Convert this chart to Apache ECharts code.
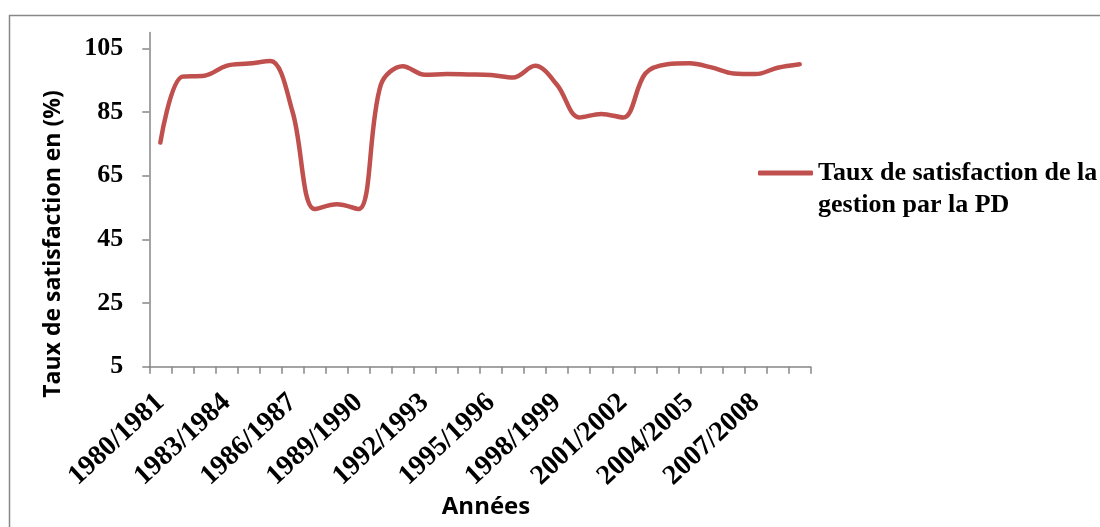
<!DOCTYPE html>
<html>
<head>
<meta charset="utf-8">
<script src="https://cdn.jsdelivr.net/npm/echarts@6/dist/echarts.min.js"></script>
<style>
  html, body { margin: 0; padding: 0; background: #fff; }
  #chart { width: 1100px; height: 527px; }
</style>
</head>
<body>
<div id="chart"></div>
<script>
// Campaign years 1980/1981 .. 2009/2010
const years = [
  '1980/1981', '1981/1982', '1982/1983', '1983/1984', '1984/1985',
  '1985/1986', '1986/1987', '1987/1988', '1988/1989', '1989/1990',
  '1990/1991', '1991/1992', '1992/1993', '1993/1994', '1994/1995',
  '1995/1996', '1996/1997', '1997/1998', '1998/1999', '1999/2000',
  '2000/2001', '2001/2002', '2002/2003', '2003/2004', '2004/2005',
  '2005/2006', '2006/2007', '2007/2008', '2008/2009', '2009/2010'
];

// Satisfaction rate (%) of management by the PD
const satisfaction = [
  75.4, 96.1, 96.4, 99.5, 100.2, 101.0, 85.0, 54.5, 56.0, 54.5,
  93.5, 99.4, 96.7, 96.9, 96.8, 96.6, 95.8, 99.5, 93.5, 83.3,
  84.4, 83.3, 97.1, 100.0, 100.3, 99.0, 97.1, 96.9, 98.9, 100.0
];

// Value axis ticks
const yTicks = [5, 25, 45, 65, 85, 105];

const seriesName = 'Taux de satisfaction de la\ngestion par la PD';
const lineRed = '#C0504D';
const axisGrey = '#868686';
const serif = '"Liberation Serif", "Times New Roman", serif';
const sans = '"Open Sans", "DejaVu Sans", sans-serif';

const chart = echarts.init(document.getElementById('chart'), null, { renderer: 'canvas' });

chart.setOption({
  animation: false,
  backgroundColor: '#ffffff',
  grid: { left: 149.3, right: 289.3, top: 32.4, bottom: 160.3, containLabel: false },
  legend: {
    left: 758,
    top: 125,
    padding: 0,
    orient: 'vertical',
    icon: 'roundRect',
    itemWidth: 55,
    itemHeight: 5,
    data: [seriesName],
    // blank first line keeps the icon level with the first text line
    formatter: name => '\n' + name,
    textStyle: {
      fontFamily: serif,
      fontWeight: 'bold',
      fontSize: 26,
      color: '#000',
      lineHeight: 32
    }
  },
  xAxis: {
    type: 'category',
    data: years,
    boundaryGap: true,
    axisLine: { lineStyle: { color: axisGrey, width: 1.5 } },
    axisTick: { show: true, interval: 0, length: 7, lineStyle: { color: axisGrey, width: 1.5 } },
    axisLabel: {
      interval: 2,
      rotate: 43,
      margin: 32,
      fontFamily: serif,
      fontWeight: 'bold',
      fontSize: 28,
      color: '#000'
    },
    splitLine: { show: false }
  },
  yAxis: {
    type: 'value',
    min: 5,
    max: 110,
    interval: 5,
    axisLine: { show: true, lineStyle: { color: axisGrey, width: 1.5 } },
    axisTick: { show: true, length: 7, customValues: yTicks, lineStyle: { color: axisGrey, width: 1.5 } },
    axisLabel: {
      customValues: yTicks,
      margin: 26,
      fontFamily: serif,
      fontWeight: 'bold',
      fontSize: 26,
      color: '#000'
    },
    splitLine: { show: false }
  },
  graphic: [
    {
      type: 'rect',
      shape: { x: 9.5, y: 15.5, width: 1200, height: 700 },
      style: { fill: 'none', stroke: '#888888', lineWidth: 1.5 },
      silent: true
    },
    {
      type: 'text',
      x: 53,
      y: 244,
      rotation: Math.PI / 2,
      style: {
        text: 'Taux de satisfaction en (%)',
        fontFamily: sans,
        fontWeight: 'bold',
        fontSize: 23,
        fill: '#000',
        align: 'center',
        verticalAlign: 'middle'
      }
    },
    {
      type: 'text',
      x: 486,
      y: 507,
      style: {
        text: 'Années',
        fontFamily: sans,
        fontWeight: 'bold',
        fontSize: 24,
        fill: '#000',
        align: 'center',
        verticalAlign: 'middle'
      }
    }
  ],
  series: [
    {
      name: seriesName,
      type: 'line',
      data: satisfaction,
      smooth: 0.35,
      symbol: 'none',
      lineStyle: { width: 4.5, color: lineRed, cap: 'round', join: 'round' },
      itemStyle: { color: lineRed }
    }
  ]
});
</script>
</body>
</html>
